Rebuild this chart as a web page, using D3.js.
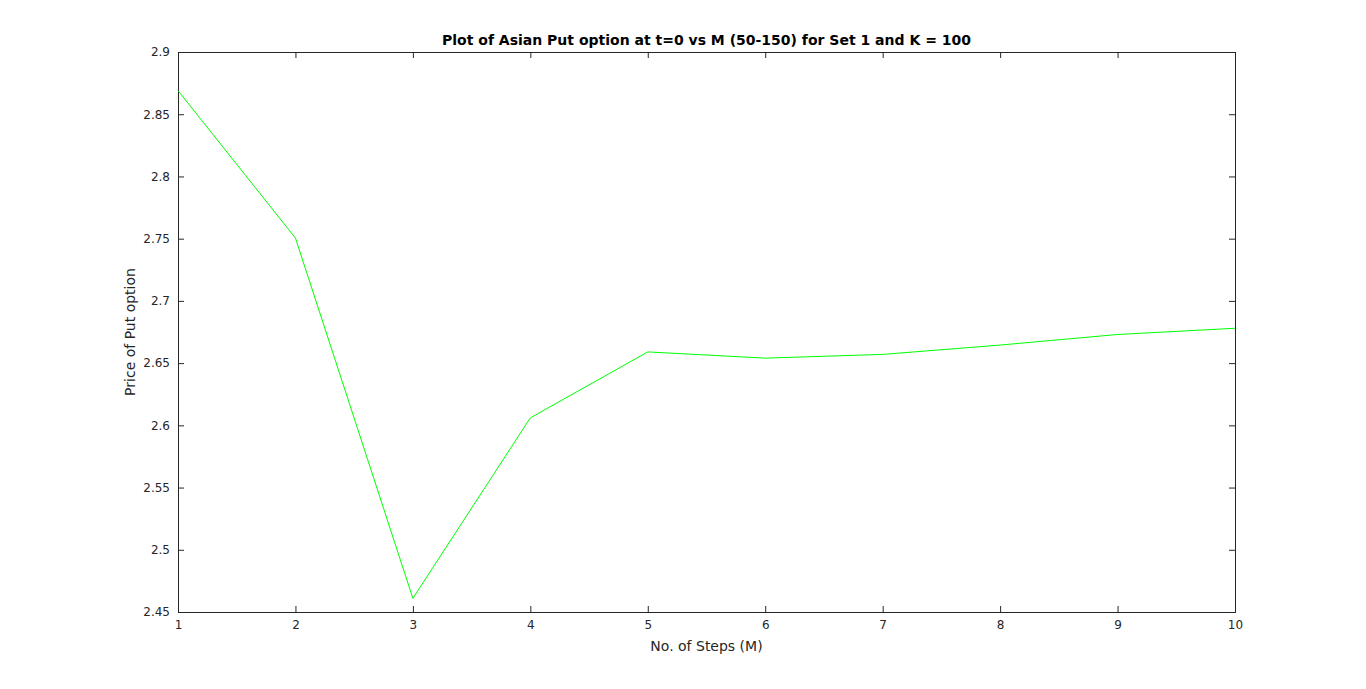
<!DOCTYPE html>
<html>
<head>
<script src="https://d3js.org/d3.v7.min.js"></script>
<style>
  body { margin: 0; background: #fff; }
  text { font-family: "DejaVu Sans", sans-serif; }
  .axis path, .axis line { stroke: #262626; }
  .axis text { font-size: 12px; fill: #262626; }
</style>
</head>
<body>
<div id="chart"></div>
<script>
// data
const steps = [1, 2, 3, 4, 5, 6, 7, 8, 9, 10];
const putPrice = [2.869, 2.7505, 2.461, 2.606, 2.659, 2.654, 2.657, 2.6645, 2.673, 2.678];
const yTicks = [2.45, 2.5, 2.55, 2.6, 2.65, 2.7, 2.75, 2.8, 2.85, 2.9];

const W = 1366, H = 689;
const margin = { top: 52, right: 131, bottom: 77, left: 178 };
const width = W - margin.left - margin.right;
const height = H - margin.top - margin.bottom;

const svg = d3.select("#chart").append("svg")
  .attr("width", W).attr("height", H);
const g = svg.append("g").attr("transform", `translate(${margin.left},${margin.top})`);

const x = d3.scaleLinear().domain([1, 10]).range([0, width]);
const y = d3.scaleLinear().domain([2.45, 2.9]).range([height, 0]);

const fmt = d => String(+d.toFixed(2));

// bottom & left axes with inward ticks
g.append("g").attr("class", "axis")
  .attr("transform", `translate(0,${height})`)
  .call(d3.axisBottom(x).tickValues(steps).tickSize(-6).tickPadding(8).tickFormat(d3.format("d")));
g.append("g").attr("class", "axis")
  .call(d3.axisLeft(y).tickValues(yTicks).tickSize(-6).tickPadding(8).tickFormat(fmt));
// top & right axes (box)
g.append("g").attr("class", "axis")
  .call(d3.axisTop(x).tickValues(steps).tickSize(-6).tickFormat(""));
g.append("g").attr("class", "axis")
  .attr("transform", `translate(${width},0)`)
  .call(d3.axisRight(y).tickValues(yTicks).tickSize(-6).tickFormat(""));

g.append("path")
  .datum(steps.map((s, i) => [s, putPrice[i]]))
  .attr("fill", "none")
  .attr("stroke", "#00ff00")
  .attr("stroke-width", 1)
  .attr("d", d3.line().x(d => x(d[0])).y(d => y(d[1])));

svg.append("text")
  .attr("x", margin.left + width / 2).attr("y", 45)
  .attr("text-anchor", "middle").attr("font-size", 14).attr("font-weight", "bold")
  .text("Plot of Asian Put option at t=0 vs M (50-150) for Set 1 and K = 100");

svg.append("text")
  .attr("x", margin.left + width / 2).attr("y", 651)
  .attr("text-anchor", "middle").attr("font-size", 14).attr("fill", "#262626")
  .text("No. of Steps (M)");

svg.append("text")
  .attr("transform", `translate(135,${margin.top + height / 2}) rotate(-90)`)
  .attr("text-anchor", "middle").attr("font-size", 14).attr("fill", "#262626")
  .text("Price of Put option");
</script>
</body>
</html>
